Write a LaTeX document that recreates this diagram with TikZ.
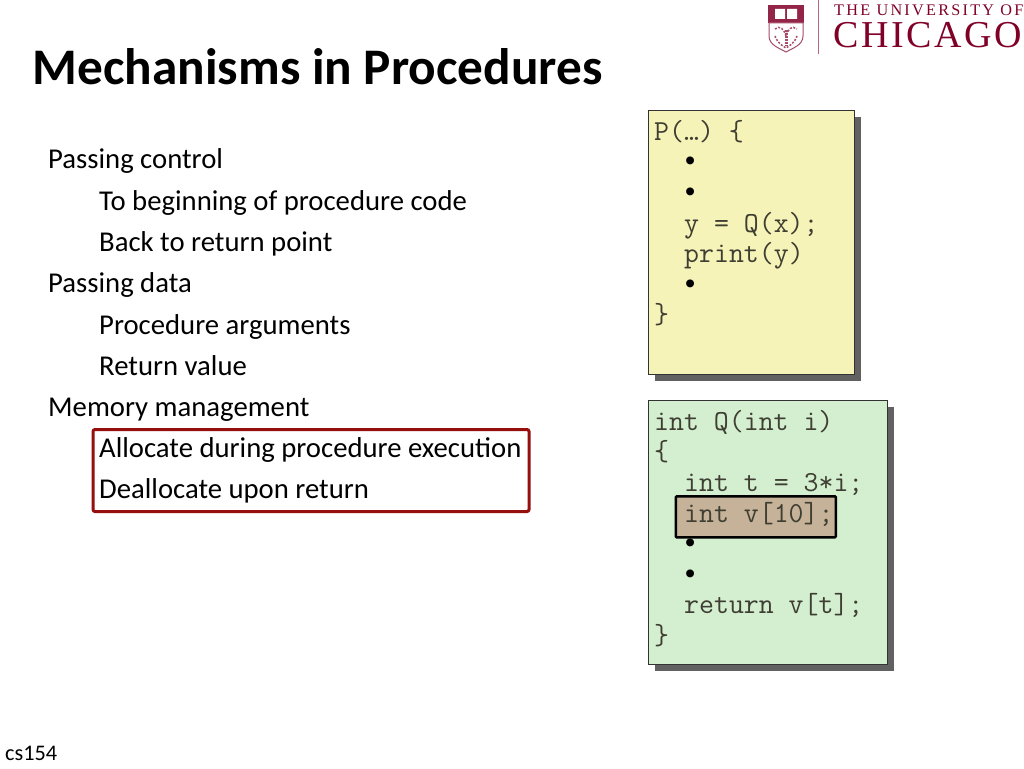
\documentclass[tikz,border=0pt]{standalone}
\usepackage{fontspec}
\setmainfont{Carlito}
\newfontfamily\logofont[LetterSpace=7]{Liberation Serif}
\newfontfamily\logospaced[LetterSpace=14]{Liberation Serif}
\newfontfamily\dotfont{Liberation Sans}
\usepackage{xcolor}
\usetikzlibrary{shadows}
\definecolor{chicagored}{RGB}{128, 0, 40}
\definecolor{framered}{RGB}{150, 14, 14}
\definecolor{pbox}{RGB}{246, 243, 184}
\definecolor{qbox}{RGB}{211, 239, 208}
\definecolor{hlbox}{RGB}{198, 178, 152}
\definecolor{codetext}{RGB}{62, 62, 50}
\newcommand{\codeindent}{\hspace*{30pt}}
\newcommand{\codedot}{\hspace*{31pt}{\dotfont\textcolor{black}{•}}}
\tikzset{
    bodyline/.style={anchor=base west, inner sep=0pt, font=\fontsize{28.7}{28.7}\selectfont},
    codebox/.style={draw=black!80, line width=1pt, anchor=north west, inner sep=0pt,
        drop shadow={shadow xshift=6pt, shadow yshift=-6pt, fill=black!62, opacity=1}},
    codetxt/.style={anchor=north west, align=left, inner sep=0pt, text=codetext,
        font=\fontsize{29}{30.6}\selectfont\ttfamily}
}
\begin{document}
\begin{tikzpicture}[x=1pt, y=-1pt]
    \useasboundingbox[fill=white] (0,0) rectangle (1024,768);
    % title
    \node[anchor=base west, inner sep=0pt, font=\fontsize{51.3}{51.3}\selectfont\bfseries] (title) at (32.5,84) {Mechanisms in Procedures};
    % logo
    \node[anchor=base west, inner sep=0pt, text=chicagored, font=\fontsize{16.2}{16.2}\logospaced] (logotop) at (834,16) {THE UNIVERSITY OF};
    \node[anchor=base west, inner sep=0pt, text=chicagored, font=\fontsize{38}{38}\logofont] (logomain) at (833,48) {CHICAGO};
    \draw[chicagored!60, line width=1pt] (818,0) -- (818,54);
    \fill[chicagored!85] (768,5) rectangle (804,23);
    \fill[white] (775,9) rectangle (785,19) (787,9) rectangle (797,19);
    \draw[chicagored!70, line width=1pt, fill=white] (769,23) -- (803,23) -- (803,36) .. controls (803,45) and (793,48) .. (786,52) .. controls (779,48) and (769,45) .. (769,36) -- cycle;
    \draw[chicagored!70, line width=1.5pt, dash pattern=on 2pt off 1.5pt] (775,29) .. controls (780,25) and (784,29) .. (786,36) .. controls (788,29) and (792,25) .. (797,29);
    \draw[chicagored!70, line width=1.5pt, dash pattern=on 2pt off 1.5pt] (775,36) .. controls (778,44) and (783,46) .. (786,48) .. controls (789,46) and (794,44) .. (797,36);
    \draw[chicagored!70, line width=3pt, dash pattern=on 2pt off 1pt] (786,30) -- (786,46);
    % bullet text
    \node[bodyline] (ctrl) at (48,168.5) {Passing control};
    \node[bodyline] (ctrla) at (99,210) {To beginning of procedure code};
    \node[bodyline] (ctrlb) at (99,251.5) {Back to return point};
    \node[bodyline] (data) at (48,292.5) {Passing data};
    \node[bodyline] (dataa) at (99,334) {Procedure arguments};
    \node[bodyline] (datab) at (99,375) {Return value};
    \node[bodyline] (mem) at (48,416.5) {Memory management};
    \node[bodyline] (mema) at (99,457.5) {Allocate during procedure execution};
    \node[bodyline] (memb) at (99,498.5) {Deallocate upon return};
    \node[draw=framered, line width=3pt, rounded corners=2pt, minimum width=436pt, minimum height=82pt, anchor=north west, inner sep=0pt] (frame) at (91.5,428) {};
    % code boxes
    \node[codebox, fill=pbox, minimum width=206pt, minimum height=264pt] (pbox) at (648,110) {};
    \node[codetxt] (pcode) at (654,120) {P(…) \{\\
        \codedot\\
        \codedot\\
        \codeindent y = Q(x);\\
        \codeindent print(y)\\
        \codedot\\
        \}};
    \node[codebox, fill=qbox, minimum width=239pt, minimum height=264pt] (qbox) at (648,400) {};
    \node[draw=black, fill=hlbox, line width=2.5pt, rounded corners=1pt, minimum width=160pt, minimum height=41pt, anchor=north west, inner sep=0pt] (vbox) at (674.5,495) {};
    \node[codetxt] (qcode) at (654,410) {int Q(int i)\\
        \{\\
        \codeindent int t = 3*i;\\
        \codeindent int v[10];\\
        \codedot\\
        \codedot\\
        \codeindent return v[t];\\
        \}};
    % footer
    \node[anchor=base west, inner sep=0pt, font=\fontsize{22.3}{22.3}\selectfont] (course) at (5,760) {cs154};
\end{tikzpicture}
\end{document}
